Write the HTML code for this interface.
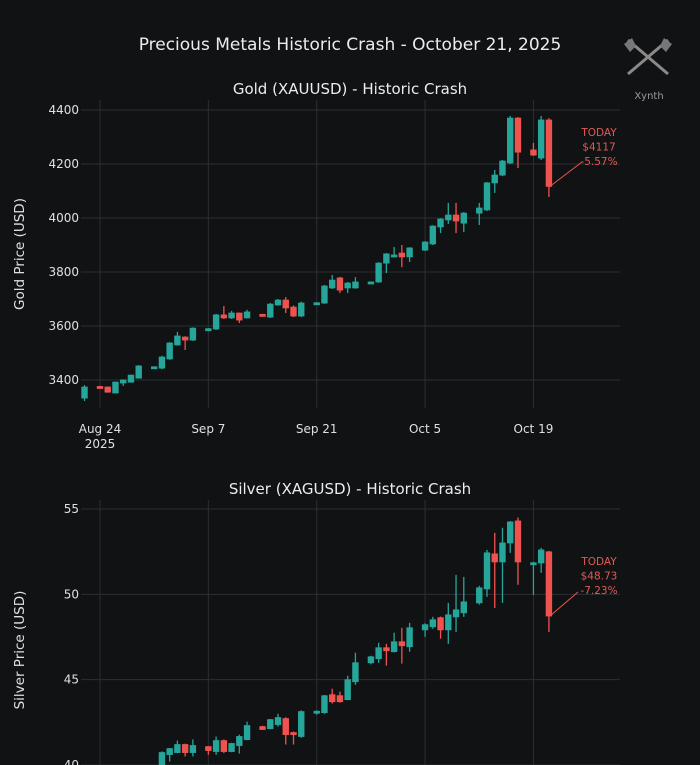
<!DOCTYPE html>
<html><head><meta charset="utf-8"><style>
html,body{margin:0;padding:0;background:#111213;}
svg{display:block;font-family:"DejaVu Sans","Liberation Sans",sans-serif;}
</style></head><body>
<svg id="c" width="700" height="765" viewBox="0 0 700 765">
<rect width="700" height="765" fill="#111213"/>
<text x="350" y="50" fill="#ececec" font-size="17" text-anchor="middle">Precious Metals Historic Crash - October 21, 2025</text>
<g fill="none" stroke="#8a8a8a" stroke-width="3">
<path d="M628 40 L668 74 M668 40 L628 74"/>
<path d="M624 44 l8 -6 l4 8 l-6 6z M672 44 l-8 -6 l-4 8 l6 6z" fill="#777" stroke="none"/>
</g>
<text x="649" y="99" fill="#9a9a9a" font-size="10" text-anchor="middle">Xynth</text>
<g id="gold"></g>
<g id="silver"></g>
</svg>
<script>
const goldDays=[-2,0,1,2,3,4,5,7,8,9,10,11,12,14,15,16,17,18,19,21,22,23,24,25,26,28,29,30,31,32,33,35,36,37,38,39,40,42,43,44,45,46,47,49,50,51,52,53,54,56,57,58];
const goldOpen=[3333,3376,3374,3352,3389,3392,3407,3446,3444,3478,3530,3559,3548,3587,3589,3641,3630,3648,3630,3643,3633,3678,3696,3670,3637,3683,3685,3741,3778,3741,3741,3760,3763,3833,3860,3870,3856,3881,3904,3967,3993,4011,3981,4018,4030,4130,4159,4204,4370,4252,4222,4363];
const goldHigh=[3381,3378,3376,3394,3402,3420,3455,3450,3490,3540,3578,3562,3595,3592,3645,3674,3656,3650,3660,3645,3685,3700,3707,3676,3690,3688,3752,3789,3782,3763,3781,3765,3836,3870,3893,3900,3892,3914,3973,3999,4056,4056,4022,4056,4133,4178,4215,4378,4374,4278,4378,4370];
const goldLow=[3322,3372,3353,3350,3378,3390,3405,3445,3440,3475,3527,3511,3545,3584,3585,3626,3626,3611,3628,3637,3630,3675,3648,3633,3633,3681,3682,3737,3722,3722,3738,3758,3760,3796,3856,3818,3837,3878,3900,3944,3978,3944,3948,3974,4026,4093,4155,4200,4185,4230,4215,4078];
const goldClose=[3374,3374,3355,3392,3400,3418,3452,3449,3485,3537,3563,3548,3592,3590,3641,3630,3648,3622,3652,3639,3681,3696,3667,3637,3685,3686,3748,3770,3733,3759,3763,3763,3833,3867,3863,3856,3889,3911,3970,3996,4011,3989,4018,4037,4130,4159,4211,4370,4244,4233,4363,4117];
const goldTicks=[3400,3600,3800,4000,4200,4400];

const silverDays=[8,9,10,11,12,14,15,16,17,18,19,21,22,23,24,25,26,28,29,30,31,32,33,35,36,37,38,39,40,42,43,44,45,46,47,49,50,51,52,53,54,56,57,58];
const silverOpen=[39.6,40.61,40.73,41.2,40.73,41.08,40.79,41.43,40.79,41.14,41.49,42.25,42.13,42.37,42.72,41.9,41.67,43.1,43.07,44.12,44.06,43.83,44.88,45.99,46.23,46.87,46.64,47.22,46.93,47.92,48.1,48.63,47.92,48.68,48.92,49.5,50.32,52.37,51.9,53.01,54.3,51.8,51.84,52.49];
const silverHigh=[40.8,41.0,41.43,41.25,41.5,41.1,41.67,41.5,41.3,41.78,42.54,42.3,42.7,43.0,42.8,41.96,43.2,43.2,44.1,44.47,44.3,45.23,46.58,46.4,47.16,47.1,47.75,48.04,48.33,48.3,48.68,48.7,49.5,51.14,51.02,50.5,52.6,53.6,53.9,54.3,54.5,51.9,52.72,52.55];
const silverLow=[39.5,40.2,40.7,40.5,40.5,40.6,40.6,40.7,40.75,40.67,41.45,42.05,42.1,42.25,41.2,41.2,41.6,42.95,43.0,43.6,43.65,43.8,44.7,45.9,45.99,45.82,46.6,45.94,46.64,47.51,47.98,47.4,47.1,47.8,48.68,49.4,49.85,49.2,49.5,52.43,50.56,49.97,51.26,47.8];
const silverClose=[40.73,40.96,41.2,40.73,41.14,40.85,41.43,40.79,41.26,41.67,42.31,42.08,42.66,42.78,41.78,41.78,43.13,43.15,44.06,43.71,43.71,45.0,45.99,46.34,46.87,46.7,47.22,46.99,48.04,48.22,48.51,47.92,48.8,49.09,49.56,50.38,52.43,51.9,53.01,54.24,51.9,51.85,52.6,48.73];
const silverTicks=[40,45,50,55];

const xTickDays=[0,14,28,42,56];
const xTickLabels=["Aug 24","Sep 7","Sep 21","Oct 5","Oct 19"];

const NS="http://www.w3.org/2000/svg";
function mk(tag,attrs,parent){const e=document.createElementNS(NS,tag);for(const k in attrs)e.setAttribute(k,attrs[k]);parent.appendChild(e);return e;}
const xs=d=>100+d*7.74;

function panel(g,cfg){
  const {top,bottom,vMin,vMax,yMinPx,yMaxPx,ticks,days,O,H,L,C,title,ylabel,fmt,showX,ann,clipB}=cfg;
  const ys=v=>yMinPx+(v-vMin)*(yMaxPx-yMinPx)/(vMax-vMin);
  const cid='clip'+title.length;
  const cp=mk('clipPath',{id:cid},g);mk('rect',{x:80,y:top,width:540,height:clipB-top},cp);
  const t=mk('text',{x:350,y:top-6,fill:'#ececec','font-size':15,'text-anchor':'middle'},g);t.textContent=title;
  
  
  ticks.forEach(v=>{
    const y=ys(v);
    const l=mk('line',{x1:81,x2:620,y1:y,y2:y,stroke:'#2b2f34','stroke-width':1},g);
    
    
    const tx=mk('text',{x:79,y:y+4,fill:'#e0e0e0','font-size':12,'text-anchor':'end'},g);tx.textContent=v;
    
    
  });
  xTickDays.forEach((d,i)=>{
    const x=xs(d);
    const l=mk('line',{x1:x,x2:x,y1:top,y2:bottom,stroke:'#2b2f34','stroke-width':1},g);
    
    
    if(showX){
      const tx=mk('text',{x:x,y:bottom+25,fill:'#e0e0e0','font-size':12,'text-anchor':'middle'},g);tx.textContent=xTickLabels[i];
      
      
      if(i===0){const y2=mk('text',{x:x,y:bottom+40,fill:'#e0e0e0','font-size':12,'text-anchor':'middle'},g);y2.textContent='2025';
        
        }
    }
  });
  const yl=mk('text',{x:0,y:0,fill:'#e0e0e0','font-size':13.5,'text-anchor':'middle',transform:`translate(24,${(top+bottom)/2}) rotate(-90)`},g);yl.textContent=ylabel;
  
  
  const cg=mk('g',{'clip-path':`url(#${cid})`},g);
  days.forEach((d,i)=>{
    const up=C[i]>=O[i];const col=up?'#26a69a':'#ef5350';
    const x=xs(d);
    const w=mk('line',{x1:x,x2:x,y1:ys(H[i]),y2:ys(L[i]),stroke:col,'stroke-width':1.3},cg);
    
    
    const y1=ys(Math.max(O[i],C[i])),y2=ys(Math.min(O[i],C[i]));
    const b=mk('rect',{x:x-2.8,y:y1,width:5.6,height:Math.max(2,y2-y1),fill:col,stroke:col,'stroke-width':0.8},cg);
    
    
  });
  const last=days.length-1;
  const ax=xs(days[last]),ay=ys(C[last]);
  mk('line',{x1:ax+1,y1:ay,x2:ann.lx,y2:ann.ly,stroke:'#ef5350','stroke-width':1},g);
  [ 'TODAY', fmt(C[last]), ann.pct ].forEach((s,k)=>{
    const tx=mk('text',{x:599,y:ann.ty+k*14.5,fill:'#e05a55','font-size':10.5,'text-anchor':'middle'},g);tx.textContent=s;
    
    
  });
}
panel(document.getElementById('gold'),{top:100,bottom:408,clipB:408,vMin:3400,vMax:4400,yMinPx:380,yMaxPx:110,ticks:goldTicks,days:goldDays,O:goldOpen,H:goldHigh,L:goldLow,C:goldClose,title:'Gold (XAUUSD) - Historic Crash',ylabel:'Gold Price (USD)',fmt:v=>'$'+Math.round(v),showX:true,ann:{lx:582,ly:162,ty:136,pct:'-5.57%'}});
panel(document.getElementById('silver'),{top:500,bottom:800,clipB:765,vMin:40,vMax:55,yMinPx:765,yMaxPx:509,ticks:silverTicks,days:silverDays,O:silverOpen,H:silverHigh,L:silverLow,C:silverClose,title:'Silver (XAGUSD) - Historic Crash',ylabel:'Silver Price (USD)',fmt:v=>'$'+v.toFixed(2),showX:false,ann:{lx:578,ly:592,ty:565,pct:'-7.23%'}});
</script>
</body></html>
